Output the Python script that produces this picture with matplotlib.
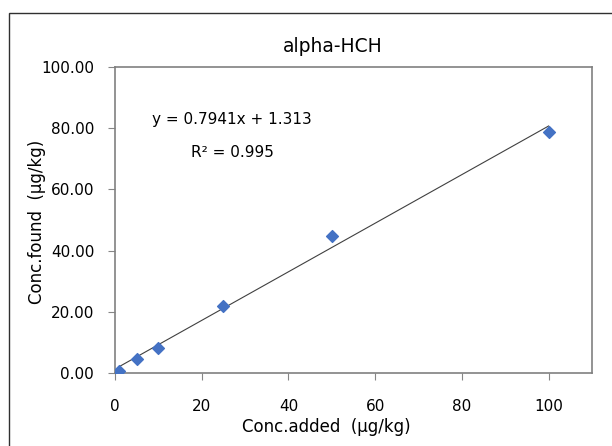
import matplotlib
matplotlib.use("Agg")
import matplotlib.pyplot as plt
from matplotlib.patches import Rectangle
import numpy as np

plt.rcParams['font.family'] = ['DejaVu Sans']

conc_added = [1, 5, 10, 25, 50, 100]
conc_found = [0.8, 4.6, 8.2, 21.9, 44.8, 78.8]
slope = 0.7941
intercept = 1.313
r2 = 0.995
title = "alpha-HCH"
xticks = [0, 20, 40, 60, 80, 100]
yticks = [0, 20, 40, 60, 80, 100]

W, H = 612, 446
fig = plt.figure(figsize=(W/100, H/100), dpi=100)
fig.patches.append(Rectangle((9/W, -0.05), 0.2 + (W-9)/W, (H-13)/H + 0.05,
                             transform=fig.transFigure, fill=False,
                             edgecolor='#303030', linewidth=1.0))
ax = fig.add_axes([115/W, (H-373)/H, (592-115)/W, (373-67)/H])
ax.set_xlim(0, 110)
ax.set_ylim(0, 100)

xl = np.array([conc_added[0], conc_added[-1]])
ax.plot(xl, slope*xl + intercept, color='#404040', linewidth=0.8)
ax.scatter(conc_added, conc_found, marker='D', s=36, color='#4472C4', zorder=3)

ax.set_xticks(xticks)
ax.set_yticks(yticks)
ax.set_yticklabels([f"{v:.2f}" for v in yticks])
ax.tick_params(direction='out', length=5, color='#868686', labelsize=11)
ax.tick_params(axis='x', pad=14)
ax.tick_params(axis='y', pad=10)
for s in ax.spines.values():
    s.set_color('#808080')
    s.set_linewidth(1.2)

fig.text(333/W, 1-46/H, title, fontsize=13.5, ha='center', va='center')
fig.text(326/W, 1-427/H, "Conc.added  (µg/kg)", fontsize=12, ha='center', va='center')
fig.text(37/W, 1-222/H, "Conc.found  (µg/kg)", fontsize=12, ha='center', va='center',
         rotation=90)

ax.text(27, 83, f"y = {slope}x + {intercept}", fontsize=11, ha='center', va='center')
ax.text(27, 72, f"R² = {r2}", fontsize=11, ha='center', va='center')

fig.savefig("out.png", dpi=100)
